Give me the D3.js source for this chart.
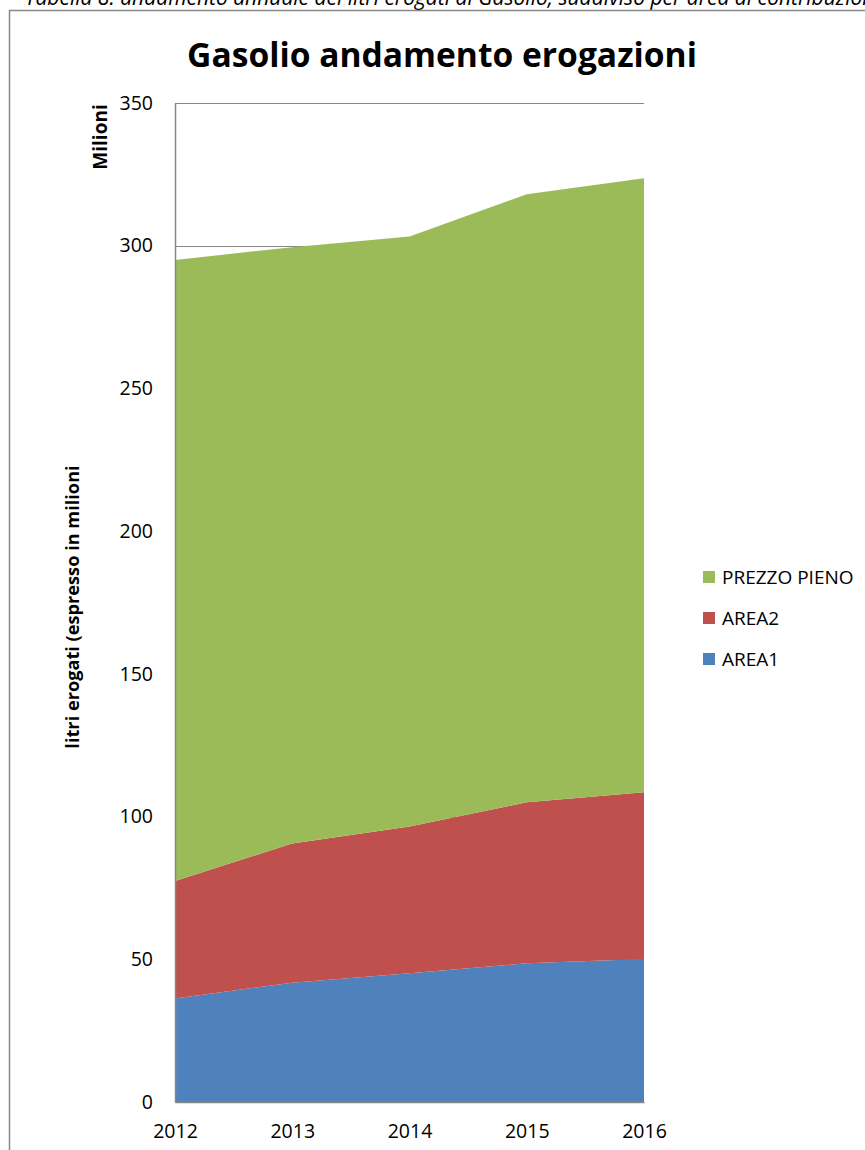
<!DOCTYPE html>
<html>
<head>
<meta charset="utf-8">
<script src="https://cdn.jsdelivr.net/npm/d3@7"></script>
<style>
  body { margin: 0; background: #fff; }
  svg { font-family: "Open Sans", "Noto Sans", sans-serif; }
</style>
</head>
<body>
<svg id="chart" width="865" height="1150"></svg>
<script>
//  data (milioni di litri)
const years = [2012, 2013, 2014, 2015, 2016];
const series_names = ["AREA1", "AREA2", "PREZZO PIENO"];
const area1 = [36.3, 41.8, 45.1, 48.6, 50.1];
const area2 = [41.1, 48.8, 51.4, 56.4, 58.4];
const prezzo_pieno = [217.6, 208.9, 206.7, 213.0, 215.1];
const y_ticks = [0, 50, 100, 150, 200, 250, 300, 350];
const colors = {"AREA1": "#4F81BD", "AREA2": "#C0504D", "PREZZO PIENO": "#9BBB59"};

const rows = years.map((yr, i) => ({year: yr, "AREA1": area1[i], "AREA2": area2[i], "PREZZO PIENO": prezzo_pieno[i]}));

const svg = d3.select("#chart");
const margin = ({top: 103, right: 221, bottom: 48, left: 175});
const w = 865, h = 1150;

const x = d3.scalePoint().domain(years).range([margin.left, w - margin.right]);
const y = d3.scaleLinear().domain([0, 350]).range([h - margin.bottom, margin.top]);

//  caption (clipped at top)
svg.append("text")
  .attr("x", 25)
  .attr("y", 5)
  .text("Tabella 8: andamento annuale dei litri erogati di Gasolio, suddiviso per area di contribuzione")
  .style("font-size", "21px")
  .style("font-style", "italic")
  .style("fill", "#000");

//  chart frame
svg.append("path")
  .attr("d", `M9.5,${h + 5} V10.5 H${w + 5}`)
  .attr("fill", "none")
  .attr("stroke", "#888")
  .attr("stroke-width", 1.5);

//  title
svg.append("text")
  .attr("x", 442)
  .attr("y", 67)
  .attr("text-anchor", "middle")
  .text("Gasolio andamento erogazioni")
  .style("font-size", "33.6px")
  .style("font-weight", "bold");

//  gridlines
svg.append("g")
  .selectAll("line")
  .data(y_ticks.slice(1))
  .join("line")
  .attr("x1", margin.left)
  .attr("x2", w - margin.right)
  .attr("y1", d => Math.round(y(d)) + 0.5)
  .attr("y2", d => Math.round(y(d)) + 0.5)
  .attr("stroke", "#868686")
  .attr("stroke-width", 1.2);

//  stacked areas
const stack = d3.stack().keys(series_names);
const layers = stack(rows);

const area = d3.area()
  .x(d => x(d.data.year))
  .y0(d => y(d[0]))
  .y1(d => y(d[1]));

svg.append("g")
  .selectAll("path")
  .data(layers)
  .join("path")
  .attr("d", area)
  .attr("fill", d => colors[d.key]);

//  axes
const yAxis = g => g
  .attr("transform", `translate(${margin.left},0)`)
  .call(d3.axisLeft(y).tickValues(y_ticks).tickSize(0).tickPadding(22))
  .call(g => g.select(".domain").attr("stroke", "#868686").attr("stroke-width", 1.5));

const xAxis = g => g
  .attr("transform", `translate(0,${h - margin.bottom})`)
  .call(d3.axisBottom(x).tickSize(0).tickPadding(22))
  .call(g => g.select(".domain").attr("stroke", "#868686").attr("stroke-width", 1.5));

svg.append("g")
  .call(yAxis)
  .selectAll("text")
  .style("font-size", "19.5px")
  .style("font-family", "'Open Sans', sans-serif")
  .style("fill", "#000");

svg.append("g")
  .call(xAxis)
  .selectAll("text")
  .style("font-size", "19.5px")
  .style("font-family", "'Open Sans', sans-serif")
  .style("fill", "#000");

//  axis titles
svg.append("text")
  .attr("transform", "translate(79,607) rotate(-90)")
  .attr("text-anchor", "middle")
  .text("litri erogati (espresso in milioni")
  .style("font-size", "18.2px")
  .style("font-weight", "bold");

svg.append("text")
  .attr("transform", "translate(107,137) rotate(-90)")
  .attr("text-anchor", "middle")
  .text("Milioni")
  .style("font-size", "19px")
  .style("font-weight", "bold");

//  legend
const legend_items = ["PREZZO PIENO", "AREA2", "AREA1"];
const legend = svg.append("g").attr("transform", "translate(703,577)");
legend_items.forEach((k, i) => {
  legend.append("rect")
    .attr("x", 0)
    .attr("y", i * 41 - 6)
    .attr("width", 12)
    .attr("height", 12)
    .attr("fill", colors[k]);
  legend.append("text")
    .attr("x", 19)
    .attr("y", i * 41)
    .attr("dy", "0.35em")
    .text(k)
    .style("font-size", "19px");
});
</script>
</body>
</html>
